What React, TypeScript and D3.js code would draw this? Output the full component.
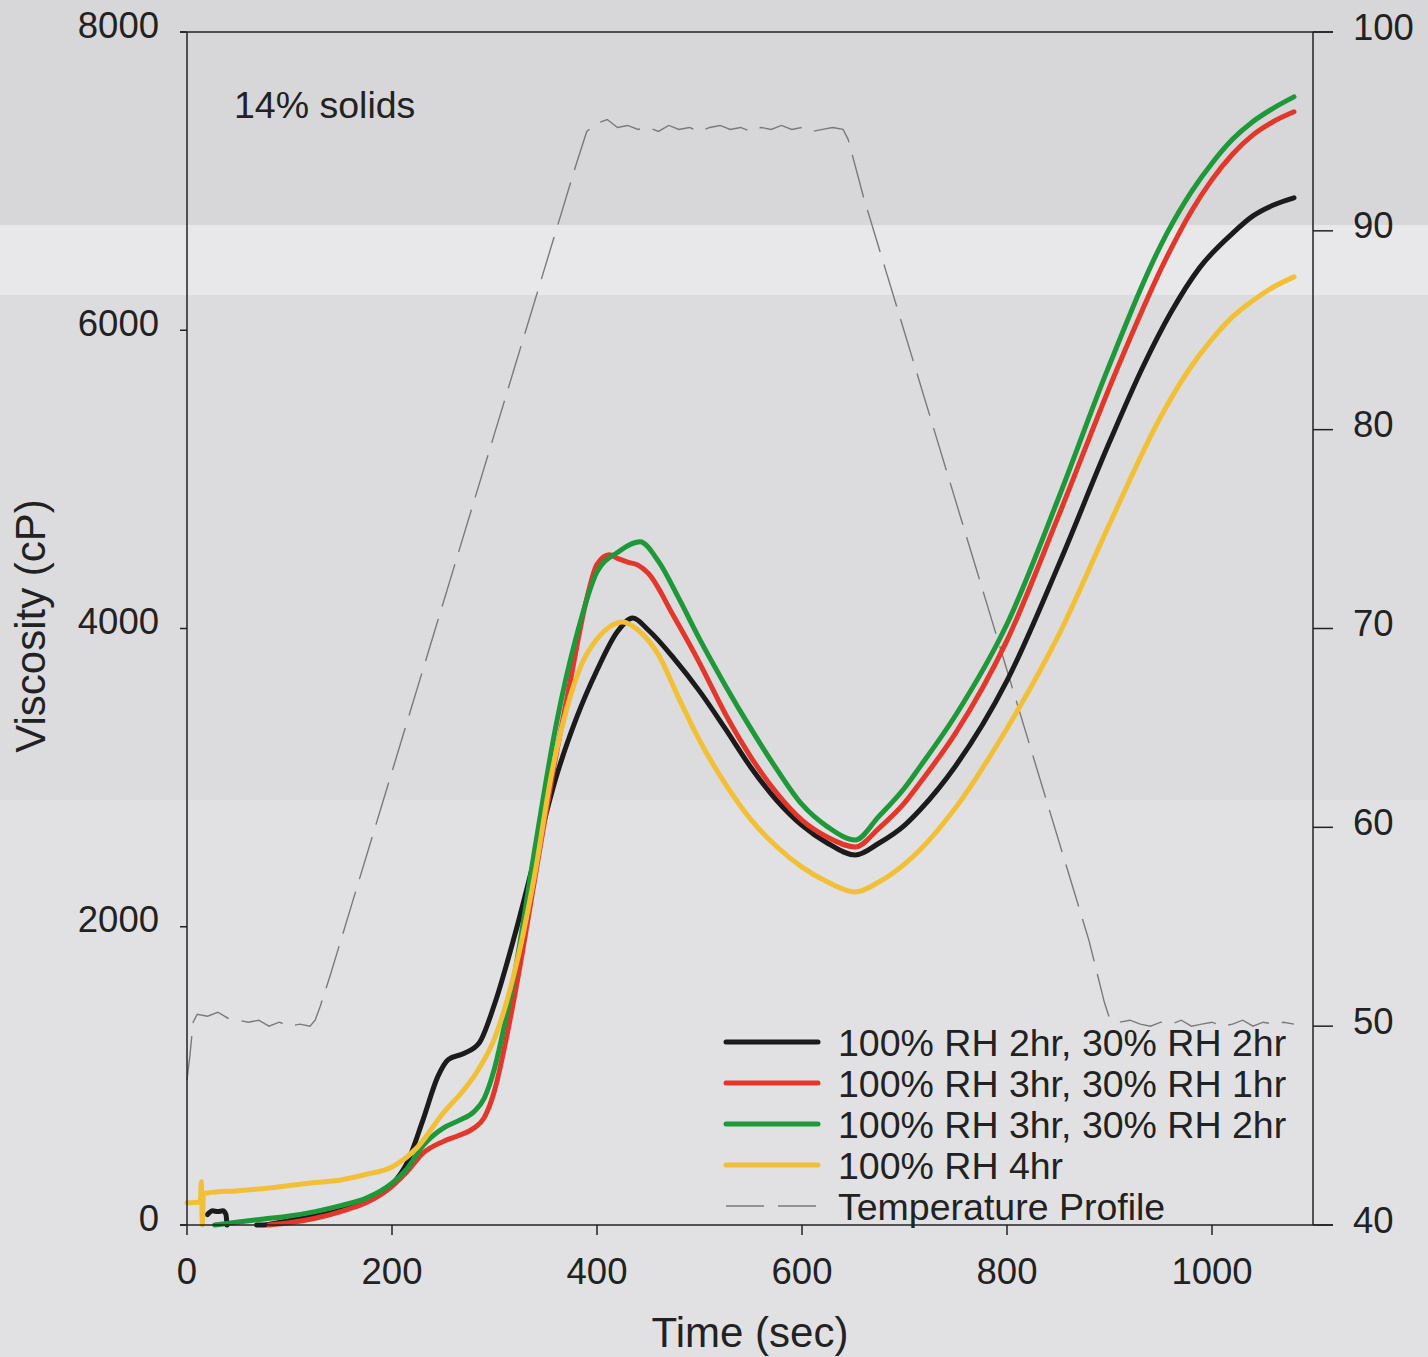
import React from 'react';
import * as d3 from 'd3';

const W = 1428;
const H = 1357;

const xTicks = [0, 200, 400, 600, 800, 1000];
const yTicks = [0, 2000, 4000, 6000, 8000];
const y2Ticks = [40, 50, 60, 70, 80, 90, 100];

const blackTime = [20, 25, 30, 35, 38, 39, 40, 68, 75, 85, 100, 125, 150, 175, 200, 215, 230, 245, 255, 270, 285, 300, 320, 340, 360, 380, 400, 420, 435, 450, 475, 500, 525, 550, 575, 600, 625, 652, 675, 700, 715, 750, 800, 850, 900, 933, 960, 988, 1020, 1040, 1060, 1080];
const blackVisc: (number | null)[] = [70, 95, 90, 95, 70, 0, null, 0, 0, 10, 30, 60, 100, 160, 270, 420, 700, 1000, 1110, 1150, 1220, 1480, 1950, 2480, 3000, 3400, 3720, 3980, 4070, 3990, 3800, 3580, 3330, 3070, 2850, 2680, 2560, 2481, 2560, 2680, 2783, 3080, 3650, 4420, 5250, 5760, 6120, 6420, 6650, 6767, 6840, 6888];

const redTime = [80, 100, 125, 150, 175, 200, 215, 230, 250, 265, 280, 290, 300, 310, 320, 340, 360, 374, 390, 400, 412, 420, 430, 440, 450, 475, 500, 525, 552, 575, 600, 625, 652, 675, 700, 715, 750, 800, 850, 907, 956, 980, 1000, 1020, 1040, 1060, 1080];
const redVisc = [0, 15, 45, 90, 150, 260, 360, 480, 560, 600, 650, 720, 900, 1200, 1550, 2350, 3150, 3650, 4200, 4430, 4495, 4470, 4445, 4425, 4370, 4080, 3770, 3430, 3118, 2900, 2715, 2600, 2535, 2660, 2830, 2964, 3300, 3920, 4750, 5734, 6492, 6800, 7010, 7180, 7310, 7400, 7465];

const greenTime = [27, 50, 75, 100, 125, 150, 175, 200, 215, 230, 250, 265, 280, 290, 300, 310, 320, 340, 360, 380, 400, 420, 442, 460, 480, 500, 525, 550, 575, 600, 625, 652, 675, 700, 715, 750, 800, 850, 898, 956, 980, 1000, 1020, 1040, 1060, 1080];
const greenVisc = [0, 20, 40, 60, 90, 130, 180, 280, 380, 530, 650, 700, 760, 850, 1050, 1350, 1700, 2550, 3350, 3950, 4380, 4510, 4581, 4450, 4200, 3930, 3620, 3330, 3060, 2820, 2670, 2582, 2740, 2930, 3072, 3420, 4030, 4870, 5734, 6650, 6930, 7120, 7280, 7400, 7490, 7565];

const yellowTime = [0, 5, 10, 13, 14, 15, 16, 20, 50, 80, 100, 125, 150, 175, 200, 225, 250, 270, 285, 300, 320, 340, 355, 370, 385, 400, 412, 425, 440, 460, 480, 500, 525, 550, 575, 600, 625, 652, 675, 700, 715, 750, 800, 850, 900, 950, 976, 1000, 1020, 1040, 1060, 1080];
const yellowVisc = [150, 150, 152, 155, 290, 0, 210, 215, 230, 248, 265, 285, 302, 340, 389, 523, 751, 905, 1050, 1250, 1710, 2380, 3000, 3450, 3760, 3930, 4010, 4044, 3990, 3823, 3530, 3250, 2960, 2720, 2540, 2400, 2300, 2233, 2300, 2420, 2515, 2800, 3330, 3950, 4700, 5420, 5720, 5940, 6090, 6200, 6290, 6358];

const tempTime = [0, 3, 6, 10, 20, 30, 40, 50, 60, 70, 80, 90, 100, 110, 120, 125, 130, 140, 160, 180, 200, 220, 240, 260, 280, 300, 320, 340, 360, 380, 390, 400, 410, 420, 430, 440, 450, 460, 470, 480, 490, 500, 510, 520, 530, 540, 550, 560, 570, 580, 590, 600, 610, 620, 630, 640, 645, 660, 680, 700, 720, 740, 760, 780, 800, 820, 840, 860, 880, 895, 900, 910, 920, 930, 940, 950, 960, 970, 980, 990, 1000, 1010, 1020, 1030, 1040, 1050, 1060, 1070, 1080];
const tempVal = [47.3, 48.6, 50.2, 50.6, 50.5, 50.7, 50.4, 50.3, 50.2, 50.3, 50.0, 50.2, 50.0, 50.1, 50.0, 50.3, 51.0, 52.6, 56.0, 59.4, 62.8, 66.2, 69.6, 73.0, 76.4, 79.8, 83.2, 86.6, 90.0, 93.4, 95.0, 95.4, 95.6, 95.2, 95.3, 95.1, 95.2, 95.0, 95.3, 95.1, 95.2, 95.0, 95.2, 95.3, 95.1, 95.2, 95.0, 95.2, 95.1, 95.3, 95.1, 95.2, 95.0, 95.1, 95.2, 95.1, 94.6, 91.7, 88.3, 84.9, 81.5, 78.1, 74.7, 71.3, 67.9, 64.5, 61.1, 57.7, 54.3, 51.2, 50.4, 50.2, 50.3, 50.1, 50.0, 50.2, 50.1, 50.3, 50.0, 50.1, 50.2, 50.0, 50.1, 50.3, 50.0, 50.2, 50.1, 50.2, 50.1];

const seriesNames = ['100% RH 2hr, 30% RH 2hr', '100% RH 3hr, 30% RH 1hr', '100% RH 3hr, 30% RH 2hr', '100% RH 4hr'];
const seriesColors = ['#1b1b1b', '#e2372b', '#1f983a', '#f1c036'];
const tempName = 'Temperature Profile';

const L = 187, R = 1313, T = 32, B = 1225;

export default function App() {
  const x = d3.scaleLinear().domain([0, 1100]).range([L, L + 1100 * 1.025]);
  const y = d3.scaleLinear().domain([0, 8000]).range([B, T]);
  const y2 = d3.scaleLinear().domain([40, 100]).range([B, T]);

  const line = d3.line<[number, number | null]>()
    .defined(d => d[1] !== null)
    .x(d => x(d[0]))
    .y(d => y(d[1] as number))
    .curve(d3.curveMonotoneX);

  const tempLine = d3.line<[number, number]>()
    .x(d => x(d[0]))
    .y(d => y2(d[1]))
    .curve(d3.curveLinear);

  const zip = (a: number[], b: (number | null)[]) => a.map((t, i) => [t, b[i]] as [number, number | null]);
  const series = [
    zip(blackTime, blackVisc),
    zip(redTime, redVisc),
    zip(greenTime, greenVisc),
    zip(yellowTime, yellowVisc),
  ];
  const tempData = tempTime.map((t, i) => [t, tempVal[i]] as [number, number]);

  const font = '"Liberation Sans", Arial, Helvetica, sans-serif';
  const tc = '#222';
  const fs = 36.5;
  const lfs = 37.5;

  const legendX1 = 726, legendX2 = 818, legendTextX = 838;
  const legendY0 = 1042, legendDy = 41;

  return (
    <svg width={W} height={H} style={{ position: 'absolute', left: 0, top: 0, display: 'block' }} fontFamily={font}>
      <rect x={0} y={0} width={W} height={H} fill="#dcdcde" />
      <rect x={0} y={0} width={W} height={225} fill="#d7d7d9" />
      <rect x={0} y={225} width={W} height={70} fill="#e8e8ea" />
      <rect x={0} y={800} width={W} height={557} fill="#e1e1e3" />

      {/* temperature profile */}
      <path d={tempLine(tempData) || ''} fill="none" stroke="#7a7a7a" strokeWidth={1.4} strokeDasharray="44 13" />

      {/* viscosity series */}
      {series.map((s, i) => (
        <path key={i} d={line(s) || ''} fill="none" stroke={seriesColors[i]} strokeWidth={5} strokeLinejoin="round" strokeLinecap="round" />
      ))}

      {/* frame */}
      <line x1={180} x2={1333} y1={T} y2={T} stroke="#222" strokeWidth={1.5} />
      <line x1={180} x2={1333} y1={B} y2={B} stroke="#222" strokeWidth={1.5} />
      <line x1={L} x2={L} y1={T} y2={B} stroke="#222" strokeWidth={1.5} />
      <line x1={R} x2={R} y1={T} y2={B} stroke="#222" strokeWidth={1.5} />

      {/* left axis */}
      {yTicks.map(v => (
        <g key={'y' + v}>
          <line x1={180} x2={L} y1={y(v)} y2={y(v)} stroke="#222" strokeWidth={1.5} />
          <text x={159} y={y(v) - 4} textAnchor="end" dominantBaseline="middle" fontSize={fs} fill={tc}>{v}</text>
        </g>
      ))}
      {/* right axis */}
      {y2Ticks.map(v => (
        <g key={'y2' + v}>
          <line x1={R} x2={1333} y1={y2(v)} y2={y2(v)} stroke="#222" strokeWidth={1.5} />
          <text x={1353} y={y2(v) - 2} textAnchor="start" dominantBaseline="middle" fontSize={fs} fill={tc}>{v}</text>
        </g>
      ))}
      {/* bottom axis */}
      {xTicks.map(v => (
        <g key={'x' + v}>
          <line x1={x(v)} x2={x(v)} y1={B} y2={B + 10} stroke="#222" strokeWidth={1.5} />
          <text x={x(v)} y={1284} textAnchor="middle" fontSize={fs} fill={tc}>{v}</text>
        </g>
      ))}

      <text x={750} y={1347} textAnchor="middle" fontSize={42} fill={tc}>Time (sec)</text>
      <text transform={`translate(45,626) rotate(-90)`} textAnchor="middle" fontSize={42} fill={tc}>Viscosity (cP)</text>
      <text x={234} y={118} fontSize={lfs} fill={tc}>14% solids</text>

      {/* legend */}
      {seriesNames.map((n, i) => (
        <g key={'lg' + i}>
          <line x1={legendX1} x2={legendX2} y1={legendY0 + i * legendDy} y2={legendY0 + i * legendDy} stroke={seriesColors[i]} strokeWidth={5} strokeLinecap="round" />
          <text x={legendTextX} y={legendY0 + i * legendDy + 14} fontSize={lfs} fill={tc}>{n}</text>
        </g>
      ))}
      <line x1={legendX1} x2={legendX2} y1={legendY0 + 4 * legendDy} y2={legendY0 + 4 * legendDy} stroke="#7a7a7a" strokeWidth={1.4} strokeDasharray="38 14" />
      <text x={legendTextX} y={legendY0 + 4 * legendDy + 14} fontSize={lfs} fill={tc}>{tempName}</text>
    </svg>
  );
}
